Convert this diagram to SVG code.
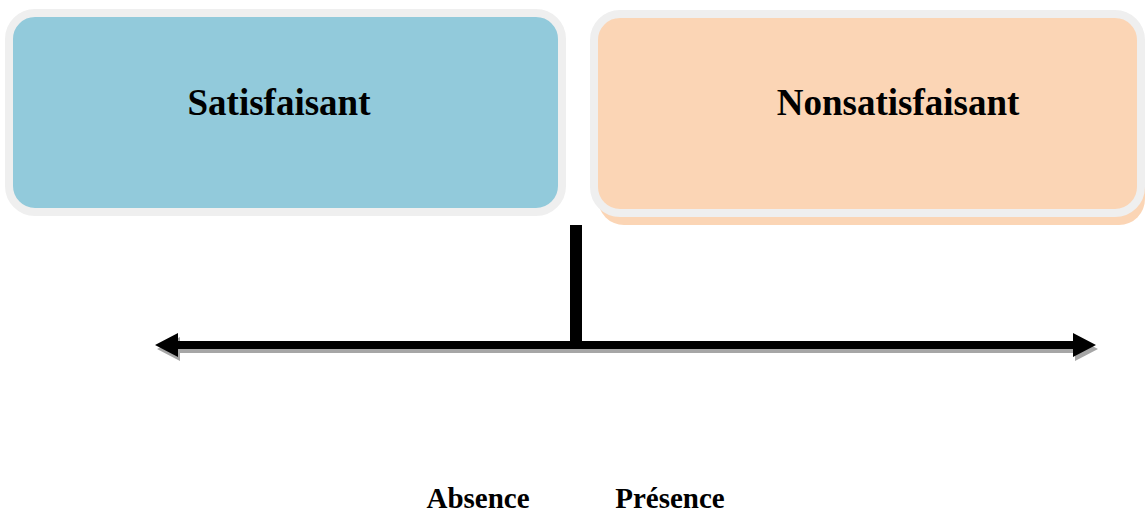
<svg xmlns="http://www.w3.org/2000/svg" width="1146" height="513" viewBox="0 0 1146 513">
<defs>
<style>
.box{stroke:#efefef;stroke-width:8}
.lbl{font-family:"Liberation Serif","Times New Roman",serif;font-weight:bold;fill:#000;text-anchor:middle}
</style>
<path id="arrow" d="M155,345 L178,333 L178,341 L1073,341 L1073,333 L1096,345 L1073,357 L1073,349 L178,349 L178,357 Z"/>
</defs>
<rect width="1146" height="513" fill="#fff"/>
<g id="satisfaisant">
<rect class="box" x="9" y="13" width="553" height="199" rx="26" fill="#92cadb"/>
<text class="lbl" x="279" y="115" font-size="37">Satisfaisant</text>
</g>
<g id="nonsatisfaisant">
<rect x="598" y="22" width="547" height="203" rx="26" fill="#fbd5b5"/>
<rect class="box" x="594" y="14" width="547" height="199" rx="26" fill="#fbd5b5"/>
<text class="lbl" x="898" y="115" font-size="37">Nonsatisfaisant</text>
</g>
<g id="connectors">
<use href="#arrow" transform="translate(2,4)" fill="#a6a6a6"/>
<rect x="570" y="225" width="12" height="120" fill="#000"/>
<use href="#arrow" fill="#000"/>
</g>
<g id="axis-labels">
<text class="lbl" x="478" y="508" font-size="29">Absence</text>
<text class="lbl" x="670" y="508" font-size="29">Présence</text>
</g>
</svg>
